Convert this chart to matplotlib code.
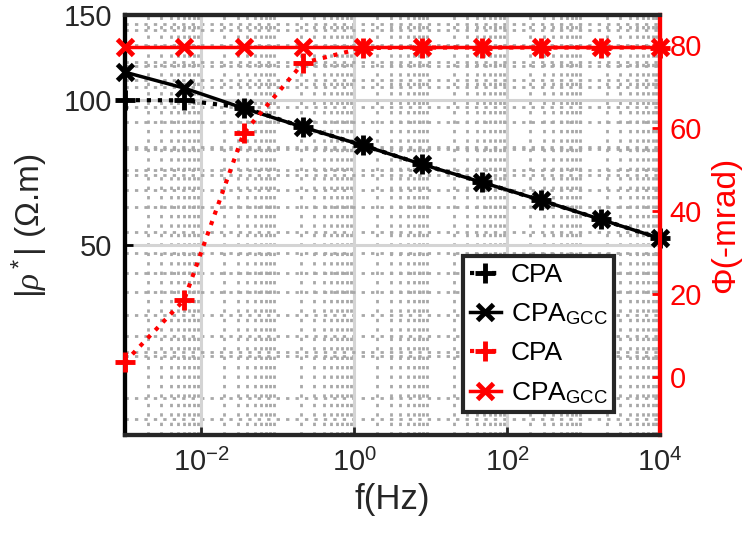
import numpy as np
import matplotlib.pyplot as plt
import matplotlib.transforms as mtransforms
from matplotlib.ticker import FixedLocator, NullFormatter, LogLocator

plt.rcParams['font.family'] = ['Liberation Sans', 'DejaVu Sans']
plt.rcParams['mathtext.fontset'] = 'custom'
plt.rcParams['mathtext.rm'] = 'Liberation Sans'
plt.rcParams['mathtext.it'] = 'Liberation Serif:italic'

# frequencies (Hz)
freq = [1e-3, 5.99e-3, 3.59e-2, 2.15e-1, 1.29, 7.74, 46.4, 278, 1668, 1e4]

# amplitude |rho*| (Ohm.m)
rho_cpa = [100.0, 99.9, 96.5, 87.9, 80.6, 73.6, 67.6, 62.0, 56.6, 51.7]
rho_gcc = [114.3, 105.9, 96.2, 87.9, 80.6, 73.6, 67.6, 62.0, 56.6, 51.7]

# phase (-mrad)
phi_cpa = [3.6, 18.6, 58.8, 75.7, 79.3, 79.4, 79.4, 79.4, 79.4, 79.4]
phi_gcc = [79.5, 79.5, 79.5, 79.5, 79.5, 79.5, 79.5, 79.5, 79.5, 79.5]

rho_ticks = [50, 100, 150]
phi_ticks = [0, 20, 40, 60, 80]

fig = plt.figure(figsize=(7.56, 5.42), dpi=100)
ax1 = fig.add_axes([0.165, 0.197, 0.708, 0.775])
ax2 = ax1.twinx()

ax1.set_xscale('log')
ax1.set_yscale('log')
ax1.set_xlim(1e-3, 1e4)
ax1.set_ylim(20.2, 150)
ax2.set_ylim(-14, 87.2)

# grids (all kept on the bottom axes)
ax1.set_axisbelow(True)
ax1.yaxis.set_major_locator(FixedLocator(rho_ticks))
ax1.yaxis.set_minor_locator(FixedLocator([20, 30, 40, 60, 70, 80, 90, 110, 120, 130, 140]))
ax1.yaxis.set_minor_formatter(NullFormatter())
ax1.set_yticklabels([str(t) for t in rho_ticks])
ax1.xaxis.set_major_locator(LogLocator(base=10, numticks=20))
ax1.xaxis.set_minor_locator(LogLocator(base=10, subs=np.arange(2, 10), numticks=20))
ax1.xaxis.set_minor_formatter(NullFormatter())
ax1.set_xticks([1e-2, 1, 1e2, 1e4])
ax1.set_xticklabels(['$10^{-2}$', '$10^{0}$', '$10^{2}$', '$10^{4}$'])

ax1.grid(which='major', color='#d4d4d4', linestyle='-', linewidth=2.2, zorder=0)
ax1.grid(which='minor', color='#a8a8a8', linestyle=(0, (1.2, 2.2)), linewidth=2.0, zorder=0)

# phase-axis minor grid drawn on the bottom axes
blend = mtransforms.blended_transform_factory(ax1.transAxes, ax2.transData)
for v in np.arange(-10, 90, 5):
    if v % 20 == 0:
        continue
    ax1.plot([0, 1], [v, v], transform=blend, color='#a8a8a8',
             linestyle=(0, (1.2, 2.2)), linewidth=2.0, zorder=0)

# amplitude curves
l1, = ax1.plot(freq, rho_cpa, color='black', linestyle=':', linewidth=3,
               marker='+', markersize=14, markeredgewidth=3.5, clip_on=False, zorder=3)
l2, = ax1.plot(freq, rho_gcc, color='black', linestyle='-', linewidth=2.5,
               marker='x', markersize=11, markeredgewidth=3.5, clip_on=False, zorder=3)

# phase curves
ax2.set_yticks(phi_ticks)
l3, = ax2.plot(freq, phi_cpa, color='red', linestyle=':', linewidth=3,
               marker='+', markersize=14, markeredgewidth=3.5, clip_on=False, zorder=3)
l4, = ax2.plot(freq, phi_gcc, color='red', linestyle='-', linewidth=2.5,
               marker='x', markersize=11, markeredgewidth=3.5, clip_on=False, zorder=3)

# axes styling
for ax in (ax1, ax2):
    for s in ('top', 'bottom'):
        ax.spines[s].set_color('#262626')
        ax.spines[s].set_linewidth(3)
    ax.spines['left'].set_color('black')
    ax.spines['left'].set_linewidth(3)
    ax.spines['right'].set_color('red')
    ax.spines['right'].set_linewidth(3)

ax1.tick_params(axis='both', which='both', direction='in', labelsize=21, colors='#262626')
ax1.tick_params(axis='x', which='major', length=6, width=2, pad=10)
ax1.tick_params(axis='x', which='minor', length=0)
ax1.tick_params(axis='y', which='major', length=6, width=2, pad=9,
                labelcolor='#262626', color='black')
ax1.tick_params(axis='y', which='minor', length=0)
ax2.tick_params(axis='y', which='major', direction='in', length=6, width=2,
                colors='red', labelsize=21, pad=7)

ax1.set_xlabel('f(Hz)', fontsize=25, color='#262626', labelpad=4)
ax1.set_ylabel('|$\\it{\\rho}^*$| (Ω.m)', fontsize=24, color='#262626', labelpad=10)
ax2.set_ylabel('Φ(-mrad)', fontsize=24, color='red', labelpad=6)

leg = ax2.legend([l1, l2, l3, l4],
                 ['CPA', r'CPA$_{\mathregular{GCC}}$', 'CPA', r'CPA$_{\mathregular{GCC}}$'],
                 loc='lower left', bbox_to_anchor=(0.632, 0.055), fontsize=19,
                 handlelength=1.2, handletextpad=0.35, labelspacing=0.55,
                 borderpad=0.25, borderaxespad=0, fancybox=False, framealpha=1,
                 edgecolor='#262626')
leg.get_frame().set_linewidth(3)

fig.savefig('out.png', dpi=100)
